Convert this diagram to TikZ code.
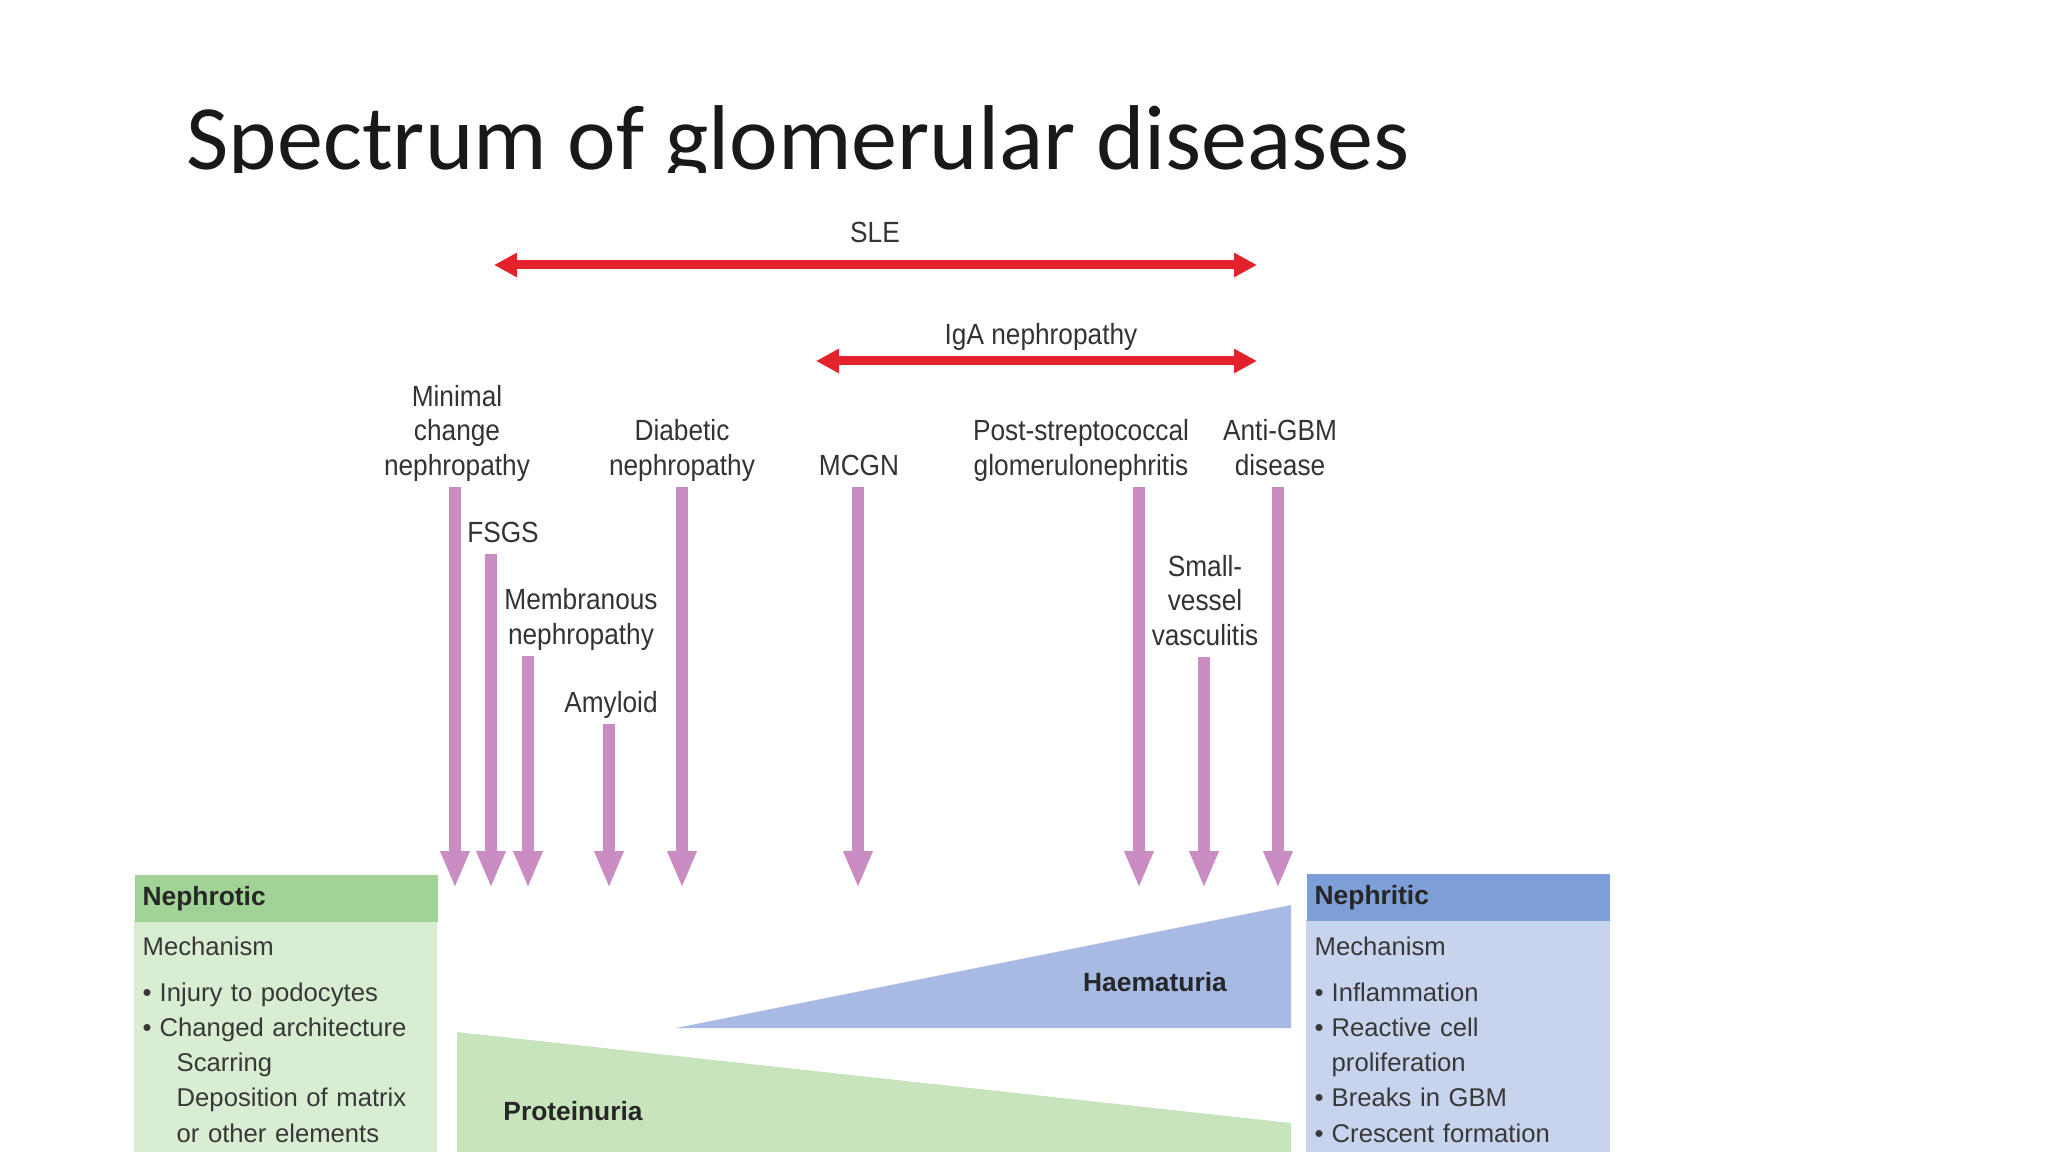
\documentclass[tikz,border=0pt]{standalone}
\usepackage{fontspec}
\setsansfont{Liberation Sans}
\newfontfamily\narrowsans{Liberation Sans}[FakeStretch=0.9]
\newfontfamily\slidefont{Carlito}
\usepackage{xcolor}
\usepackage{tikz}
\usetikzlibrary{arrows.meta, calc}
\definecolor{pinkarrow}  {HTML}{C98CC3}
\definecolor{redspan}    {HTML}{E3222B}
\definecolor{nephroticHd}{HTML}{A2D396}
\definecolor{nephroticBd}{HTML}{D9EDD2}
\definecolor{nephriticHd}{HTML}{7E9ED7}
\definecolor{nephriticBd}{HTML}{C8D4EE}
\definecolor{proteinFill}{HTML}{C7E4BD}
\definecolor{haemaFill}  {HTML}{A7BAE4}
\newcommand{\bul}{\makebox[1.7mm][l]{\textbullet}}
\tikzset{
  slidetitle/.style={
    anchor=base west, inner sep=0pt, text=black!90,
    font=\slidefont\fontsize{26.2}{30}\selectfont
  },
  dlabel/.style={
    anchor=south, align=center, inner sep=0pt, text=black!80,
    font=\narrowsans\fontsize{8.3}{9.7}\selectfont,
    execute at end node=\strut
  },
  spanlabel/.style={
    anchor=base, inner sep=0pt, text=black!80,
    font=\narrowsans\fontsize{8.3}{9.7}\selectfont
  },
  dwire/.style={
    draw=pinkarrow, line width=1.2mm, shorten <=0.1mm,
    -{Triangle[width=2.7mm, length=3.7mm]}
  },
  spanwire/.style={
    draw=redspan, line width=0.9mm,
    {Triangle[width=2.3mm, length=2.3mm]}-{Triangle[width=2.3mm, length=2.3mm]}
  },
  hdr/.style={
    rectangle, anchor=north west, minimum height=4.7mm,
    text width=2.87cm, inner xsep=0.8mm, inner ysep=0pt,
    align=left, text=black!85,
    font=\sffamily\bfseries\fontsize{7.5}{9}\selectfont
  },
  mech/.style={
    anchor=north west, text width=2.87cm, inner xsep=0.8mm,
    inner ysep=0pt, align=left, text=black!78,
    font=\sffamily\fontsize{7.3}{10}\selectfont
  },
  wedgelabel/.style={
    anchor=base, inner sep=0pt, text=black!85,
    font=\sffamily\bfseries\fontsize{7.5}{9}\selectfont
  },
}

\begin{document}
\begin{tikzpicture}[x=1cm, y=1cm]

\clip (0,0) rectangle (20.48,-11.52);

% slide title (cut off at the bottom as on the slide)
\begin{scope}
  \clip (0,0) rectangle (20.48,-1.73);
  \node[slidetitle] (title) at (1.86,-1.70) {Spectrum of glomerular diseases};
\end{scope}

% SLE and IgA spans
\coordinate (sleL) at (4.94,-2.65);
\coordinate (sleR) at (12.57,-2.65);
\coordinate (igaL) at (8.16,-3.61);
\coordinate (igaR) at (12.57,-3.61);
\node[spanlabel] (sle) at (8.75,-2.43) {SLE};
\node[spanlabel] (iga) at (10.41,-3.45) {IgA nephropathy};
\draw[spanwire] (sleL) -- (sleR);
\draw[spanwire] (igaL) -- (igaR);

% disease labels
\node[dlabel] (mcn)  at ( 4.57,-4.86) {Minimal\\change\\nephropathy};
\node[dlabel] (fsgs) at ( 5.03,-5.53) {FSGS};
\node[dlabel] (mem)  at ( 5.81,-6.55) {Membranous\\nephropathy};
\node[dlabel] (amy)  at ( 6.11,-7.23) {Amyloid};
\node[dlabel] (dia)  at ( 6.82,-4.86) {Diabetic\\nephropathy};
\node[dlabel] (mcgn) at ( 8.59,-4.86) {MCGN};
\node[dlabel] (psg)  at (10.81,-4.86) {Post-streptococcal\\glomerulonephritis};
\node[dlabel] (agbm) at (12.80,-4.86) {Anti-GBM\\disease};
\node[dlabel] (svv)  at (12.05,-6.56) {Small-\\vessel\\vasculitis};

% arrow ends
\coordinate (eMCN)  at ( 4.55,-8.88);
\coordinate (eFSGS) at ( 4.91,-8.88);
\coordinate (eMEM)  at ( 5.28,-8.88);
\coordinate (eAMY)  at ( 6.09,-8.88);
\coordinate (eDIA)  at ( 6.82,-8.88);
\coordinate (eMCGN) at ( 8.58,-8.88);
\coordinate (ePSG)  at (11.39,-8.88);
\coordinate (eSVV)  at (12.04,-8.88);
\coordinate (eAGBM) at (12.78,-8.88);

\foreach \l/\e in {mcn/eMCN, fsgs/eFSGS, mem/eMEM, amy/eAMY, dia/eDIA,
                   mcgn/eMCGN, psg/ePSG, svv/eSVV, agbm/eAGBM} {
  \draw[dwire] (\l.south -| \e) -- (\e);
}

% haematuria / proteinuria wedges
\fill[haemaFill] (6.76,-10.28) -- (12.91,-9.05) -- (12.91,-10.28) -- cycle;
\fill[proteinFill] (4.57,-10.32) -- (12.91,-11.23) -- (12.91,-11.52) -- (4.57,-11.52) -- cycle;
\node[wedgelabel] (haema)   at (11.55,-9.92) {Haematuria};
\node[wedgelabel] (protein) at ( 5.73,-11.20) {Proteinuria};

% nephrotic box
\fill[nephroticBd] (1.34,-9.20) rectangle (4.37,-11.52);
\node[hdr, fill=nephroticHd] (nephrotic) at (1.34,-8.74) {Nephrotic};
\node[mech] (nephroticTx) at (1.34,-9.36) {Mechanism\\[1.1mm]
  \bul Injury to podocytes\\
  \bul Changed architecture\\
  \hspace*{3.4mm}Scarring\\
  \hspace*{3.4mm}Deposition of matrix\\
  \hspace*{3.4mm}or other elements};

% nephritic box
\fill[nephriticBd] (13.06,-9.20) rectangle (16.10,-11.52);
\node[hdr, fill=nephriticHd] (nephritic) at (13.06,-8.73) {Nephritic};
\node[mech] (nephriticTx) at (13.06,-9.36) {Mechanism\\[1.1mm]
  \bul Inflammation\\
  \bul Reactive cell\\
  \hspace*{1.7mm}proliferation\\
  \bul Breaks in GBM\\
  \bul Crescent formation};

\end{tikzpicture}
\end{document}
